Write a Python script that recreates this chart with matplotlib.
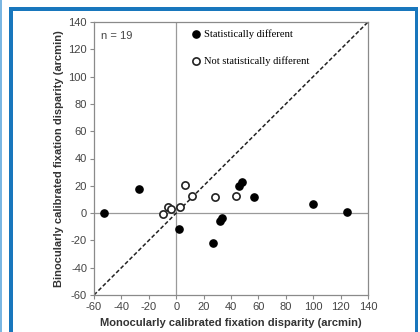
import matplotlib
matplotlib.use("Agg")
import matplotlib.pyplot as plt
from matplotlib.patches import Rectangle

plt.rcParams["font.family"] = ["Liberation Sans", "DejaVu Sans"]
plt.rcParams["axes.unicode_minus"] = False

# Data (arcmin): monocular (x) vs binocular (y) calibrated fixation disparity
diff_x = [-53, -27, 2, 27, 32, 33.5, 45.5, 48, 57, 99.5, 125]
diff_y = [0, 18, -12, -22, -6, -3.5, 20, 22.5, 12, 6.5, 0.5]
same_x = [-9.5, -6, -4, 3, 6.5, 11.5, 28.5, 44]
same_y = [-1, 4.5, 3, 4.5, 20.5, 12.5, 11.5, 12.5]
ticks = [-60, -40, -20, 0, 20, 40, 60, 80, 100, 120, 140]

fig = plt.figure(figsize=(4.2, 3.32), dpi=100)

# Blue frame around the figure
blue = "#1877bd"
fig.add_artist(Rectangle((0.0, 0.0), 2 / 420, 1.0, transform=fig.transFigure,
                         color="#7ab6e2", lw=0))
fig.add_artist(Rectangle((9 / 420, -0.1), 3.5 / 420, (332 - 7) / 332 + 0.1,
                         transform=fig.transFigure, color=blue, lw=0))
fig.add_artist(Rectangle((9 / 420, (332 - 11) / 332), (418 - 9) / 420, 4 / 332,
                         transform=fig.transFigure, color=blue, lw=0))
fig.add_artist(Rectangle((414.5 / 420, -0.1), 3.5 / 420, (332 - 7) / 332 + 0.1,
                         transform=fig.transFigure, color=blue, lw=0))

ax = fig.add_axes([94 / 420, 37 / 332, 274 / 420, 273 / 332])

ax.axhline(0, color="#9a9a9a", lw=0.9, zorder=1)
ax.axvline(0, color="#9a9a9a", lw=0.9, zorder=1)
ax.plot([-60, 140], [-60, 140], ls=(0, (2.6, 1.5)), color="#222222", lw=1.1, zorder=2)

ax.plot(diff_x, diff_y, "o", ms=5.2, color="black", zorder=3)
ax.plot(same_x, same_y, "o", ms=5.2, mfc="white", mec="#222222", mew=1.2, zorder=3)

ax.set_xlim(-60, 140)
ax.set_ylim(-60, 140)
ax.set_xticks(ticks)
ax.set_yticks(ticks)
for s in ax.spines.values():
    s.set_color("#8a8a8a")
    s.set_linewidth(0.9)
ax.tick_params(colors="#8a8a8a", labelcolor="#444444", labelsize=8,
               length=3, width=0.8, pad=2)

ax.set_xlabel("Monocularly calibrated fixation disparity (arcmin)",
              fontsize=8, fontweight="bold", color="#333333", labelpad=4)
ax.set_ylabel("Binocularly calibrated fixation disparity (arcmin)",
              fontsize=8, fontweight="bold", color="#333333", labelpad=3)

# Annotations / legend
ax.text(-55, 130, "n = 19", fontsize=8, color="#444444", va="center")
ax.plot([14.5], [131], "o", ms=5.2, color="black", clip_on=False)
ax.plot([14.5], [111.5], "o", ms=5.2, mfc="white", mec="#222222", mew=1.2)
ax.text(20, 131, "Statistically different", fontsize=7.6,
        family="Liberation Serif", va="center")
ax.text(20, 111, "Not statistically different", fontsize=7.6,
        family="Liberation Serif", va="center")

fig.savefig("out.png", dpi=100)
